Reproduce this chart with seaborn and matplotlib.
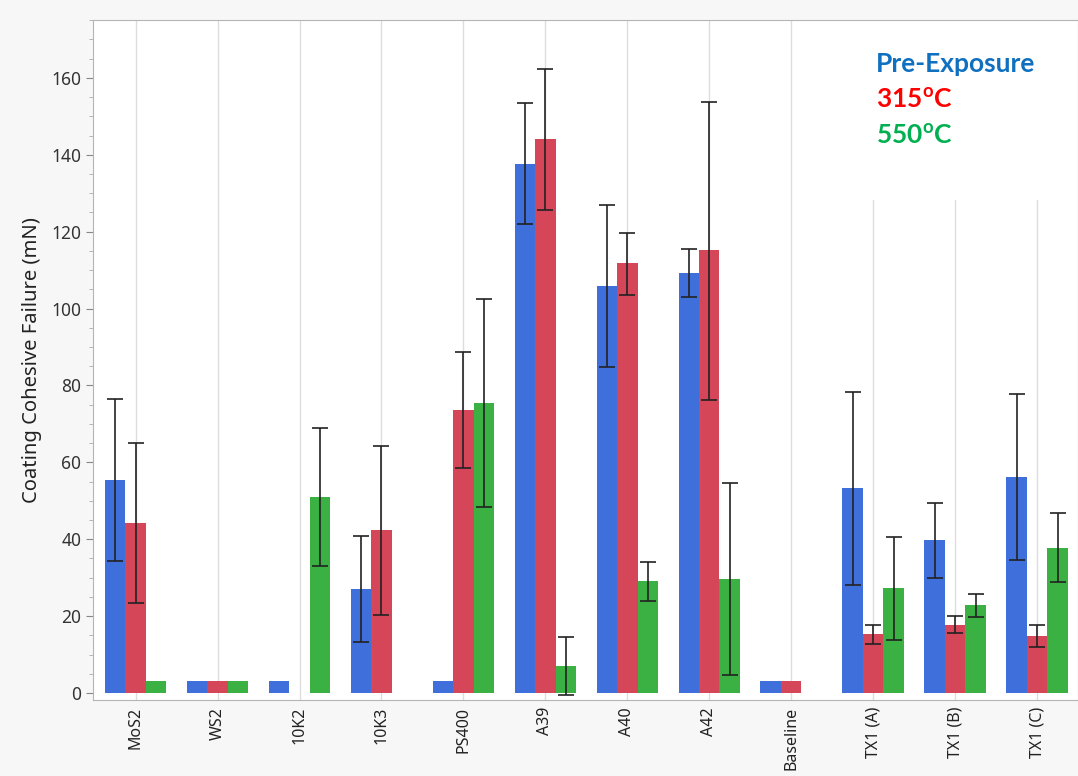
import matplotlib
matplotlib.use("Agg")
import matplotlib.pyplot as plt
from matplotlib.patches import Rectangle
import numpy as np
import pandas as pd
import seaborn as sns

categories = ["MoS2", "WS2", "10K2", "10K3", "PS400", "A39", "A40", "A42",
              "Baseline", "TX1 (A)", "TX1 (B)", "TX1 (C)"]
conditions = ["Pre-Exposure", "315C", "550C"]

pre_mean = [55.3, 3, 3, 27.1, 3, 137.7, 105.9, 109.2, 3, 53.2, 39.7, 56.2]
pre_low = [34.3, None, None, 13.4, None, 122.1, 84.8, 102.9, None, 28.1, 29.9, 34.5]
pre_high = [76.4, None, None, 40.8, None, 153.4, 126.9, 115.4, None, 78.2, 49.3, 77.9]

t315_mean = [44.2, 3, np.nan, 42.3, 73.7, 144.0, 111.8, 115.1, 3, 15.3, 17.7, 14.8]
t315_low = [23.3, None, None, 20.3, 58.4, 125.7, 103.5, 76.3, None, 12.8, 15.5, 12.0]
t315_high = [65.0, None, None, 64.2, 88.8, 162.2, 119.7, 153.8, None, 17.8, 20.0, 17.6]

t550_mean = [3, 3, 51.1, np.nan, 75.4, 7.1, 29.1, 29.7, np.nan, 27.2, 22.8, 37.7]
t550_low = [None, None, 33.1, None, 48.4, -0.4, 24.0, 4.8, None, 13.8, 19.7, 28.8]
t550_high = [None, None, 69.0, None, 102.4, 14.5, 34.0, 54.5, None, 40.6, 25.8, 46.7]

bar_colors = ["#3f6fdb", "#d54658", "#3bb143"]
label_colors = ["#1070c0", "#ff0000", "#00b050"]
legend_labels = ["Pre-Exposure", "315$^{\\mathregular{o}}$C", "550$^{\\mathregular{o}}$C"]

rows = []
for cond, means, lows, highs in zip(conditions,
                                    [pre_mean, t315_mean, t550_mean],
                                    [pre_low, t315_low, t550_low],
                                    [pre_high, t315_high, t550_high]):
    for cat, m, lo, hi in zip(categories, means, lows, highs):
        rows.append({"cat": cat, "cond": cond, "mean": m, "low": lo, "high": hi})
df = pd.DataFrame(rows)

plt.rcParams["font.family"] = ["Noto Sans", "DejaVu Sans"]

fig = plt.figure(figsize=(10.78, 7.76), dpi=100, facecolor="#f7f7f7")
ax = fig.add_axes([0.0863, 0.098, 0.9137, 0.876])
ax.set_facecolor("white")

sns.barplot(data=df.dropna(subset=["mean"]), x="cat", y="mean", hue="cond",
            order=categories, hue_order=conditions, palette=bar_colors,
            width=0.75, errorbar=None, legend=False, ax=ax, zorder=2,
            edgecolor="none", saturation=1)

# error bars at the bar centres
for cond, container in zip(conditions, ax.containers):
    sub = df[df["cond"] == cond].set_index("cat")
    for patch in container.patches:
        xc = patch.get_x() + patch.get_width() / 2
        cat = categories[int(round(xc))]
        r = sub.loc[cat]
        if pd.isna(r["low"]) or pd.isna(r["high"]):
            continue
        ax.errorbar(xc, r["mean"], yerr=[[r["mean"] - r["low"]], [r["high"] - r["mean"]]],
                    fmt="none", ecolor="#222222", elinewidth=1.2, capsize=6,
                    capthick=1.2, zorder=3)

ax.set_xlim(-0.52, 11.5)
ax.set_ylim(-1.8, 175)
ax.set_yticks(np.arange(0, 161, 20))
ax.set_yticks(np.arange(0, 176, 5), minor=True)
ax.tick_params(axis="y", which="major", length=5, color="#888888", labelsize=12.5, labelcolor="#333333")
ax.tick_params(axis="y", which="minor", length=3, color="#aaaaaa")
ax.tick_params(axis="x", length=0, labelsize=11.5, labelcolor="#222222", rotation=90, pad=5)
ax.set_xlabel("")
ax.set_ylabel("Coating Cohesive Failure (mN)", fontsize=14.5, color="#222222", labelpad=7)

ax.xaxis.grid(True, color="#dddddd", linewidth=1)
ax.yaxis.grid(False)
ax.set_axisbelow(True)
for s in ax.spines.values():
    s.set_color("#b5b5b5")

# white box behind the legend text
ax.add_patch(Rectangle((0.779, 0.735), 0.221, 0.265, transform=ax.transAxes,
                       facecolor="white", edgecolor="none", zorder=1))
for i, (lab, col) in enumerate(zip(legend_labels, label_colors)):
    ax.text(0.795, 0.935 - i * 0.052, lab, transform=ax.transAxes, color=col,
            fontsize=19, fontweight="bold", family="Lato", va="center", zorder=4)

fig.savefig("out.png", dpi=100, facecolor=fig.get_facecolor())
